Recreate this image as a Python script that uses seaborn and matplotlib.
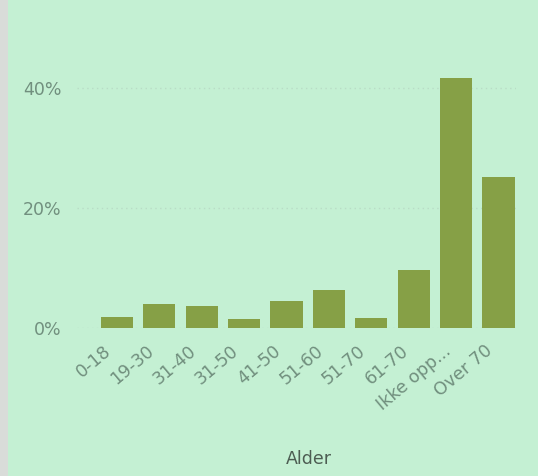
import matplotlib
matplotlib.use("Agg")
import matplotlib.pyplot as plt
import matplotlib.transforms as mtransforms
from matplotlib.patches import Rectangle
from matplotlib.ticker import PercentFormatter
import seaborn as sns

# andel per aldersgruppe (%)
categories = ["0-18", "19-30", "31-40", "31-50", "41-50", "51-60",
              "51-70", "61-70", "Ikke opp...", "Over 70"]
values = [1.8, 3.9, 3.6, 1.4, 4.4, 6.3, 1.6, 9.6, 41.7, 25.2]
yticks = [0, 20, 40]

bg = "#c4f0d3"
bar_color = "#86a046"
tick_color = "#718f7e"

sns.set_theme(style="white")
plt.rcParams["font.family"] = ["DejaVu Sans"]

fig = plt.figure(figsize=(5.38, 4.76), dpi=100)
fig.patch.set_facecolor(bg)
# grey frame strip on the left edge
fig.patches.append(Rectangle((0, 0), 8 / 538, 1, transform=fig.transFigure,
                             facecolor="#d9dcd9", edgecolor="none"))

ax = fig.add_axes([77 / 538, 1 - 327.7 / 476, 439 / 538, 317.7 / 476])
ax.set_facecolor(bg)

sns.barplot(x=categories, y=values, color=bar_color, saturation=1,
            width=0.76, linewidth=0, ax=ax)

ax.set_xlim(-0.94, 9.41)
ax.set_ylim(0, 52.95)
ax.set_yticks(yticks)
ax.yaxis.set_major_formatter(PercentFormatter(decimals=0))
ax.grid(axis="y", color="#b9dcc6", linestyle=(0, (1, 2.5)), linewidth=1.0)
ax.set_axisbelow(True)
for s in ax.spines.values():
    s.set_visible(False)

ax.tick_params(axis="y", length=0, pad=11, labelsize=12.5, labelcolor=tick_color)
ax.tick_params(axis="x", length=0, pad=15, labelsize=12.5, labelcolor=tick_color)
offset = mtransforms.ScaledTranslation(-8 / 100, 0, fig.dpi_scale_trans)
for lbl in ax.get_xticklabels():
    lbl.set_rotation(40)
    lbl.set_rotation_mode("anchor")
    lbl.set_ha("right")
    lbl.set_va("center")
    lbl.set_transform(lbl.get_transform() + offset)

ax.set_ylabel("")
ax.set_xlabel("Alder", fontsize=12.5, color="#4d5d53")
ax.xaxis.set_label_coords(0.528, -0.385)

fig.savefig("out.png", dpi=100, facecolor=bg)
